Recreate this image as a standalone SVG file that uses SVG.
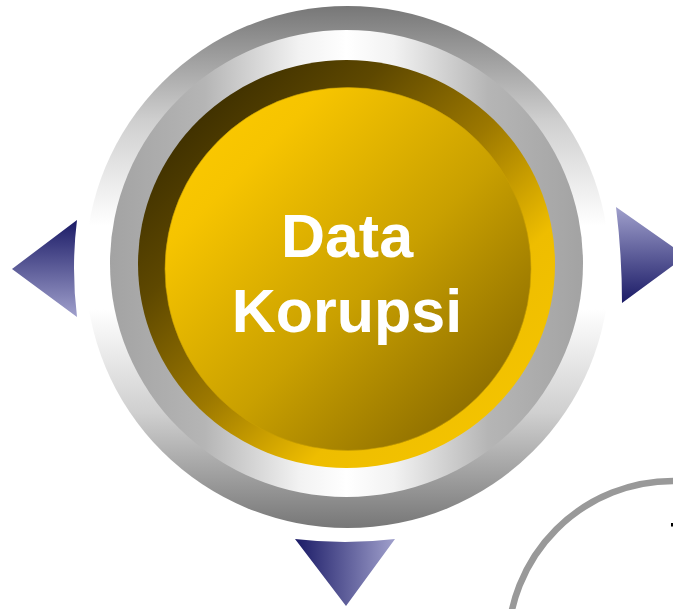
<svg xmlns="http://www.w3.org/2000/svg" width="673" height="609" viewBox="0 0 673 609">
  <defs>
    <linearGradient id="gOuter" x1="0" y1="0" x2="0" y2="1">
      <stop offset="0" stop-color="#777777"/>
      <stop offset="0.22" stop-color="#cfcfcf"/>
      <stop offset="0.42" stop-color="#ffffff"/>
      <stop offset="0.58" stop-color="#ffffff"/>
      <stop offset="0.78" stop-color="#cfcfcf"/>
      <stop offset="1" stop-color="#777777"/>
    </linearGradient>
    <linearGradient id="gInner" x1="0" y1="0" x2="1" y2="0">
      <stop offset="0" stop-color="#a3a3a3"/>
      <stop offset="0.2" stop-color="#b5b5b5"/>
      <stop offset="0.4" stop-color="#f2f2f2"/>
      <stop offset="0.5" stop-color="#ffffff"/>
      <stop offset="0.6" stop-color="#f2f2f2"/>
      <stop offset="0.8" stop-color="#b5b5b5"/>
      <stop offset="1" stop-color="#a3a3a3"/>
    </linearGradient>
    <linearGradient id="gRing" x1="0" y1="0" x2="1" y2="1">
      <stop offset="0" stop-color="#251c00"/>
      <stop offset="0.3" stop-color="#5e4800"/>
      <stop offset="0.5" stop-color="#9c7800"/>
      <stop offset="0.7" stop-color="#eebd00"/>
      <stop offset="1" stop-color="#f8c800"/>
    </linearGradient>
    <linearGradient id="gDisk" x1="0" y1="0" x2="1" y2="1">
      <stop offset="0" stop-color="#ffcc00"/>
      <stop offset="0.22" stop-color="#f6c400"/>
      <stop offset="0.55" stop-color="#c9a000"/>
      <stop offset="1" stop-color="#765a00"/>
    </linearGradient>
    <linearGradient id="gTriV" x1="0" y1="0" x2="0" y2="1">
      <stop offset="0" stop-color="#1a1a66"/>
      <stop offset="1" stop-color="#a0a0cc"/>
    </linearGradient>
    <linearGradient id="gTriVr" x1="0" y1="1" x2="0" y2="0">
      <stop offset="0" stop-color="#1a1a66"/>
      <stop offset="1" stop-color="#a0a0cc"/>
    </linearGradient>
    <linearGradient id="gTriH" x1="0" y1="0" x2="1" y2="0">
      <stop offset="0" stop-color="#1a1a66"/>
      <stop offset="1" stop-color="#a0a0cc"/>
    </linearGradient>
  </defs>
  <style>
    .label { font-family: "Liberation Sans", Arial, sans-serif; font-weight: bold; font-size: 61px; fill: #ffffff; text-anchor: middle; }
    .outline { fill: none; stroke: #999999; stroke-width: 6.5; }
  </style>
  <rect width="673" height="609" fill="#ffffff"/>

  <g id="connectors">
    <path id="arrow-left" d="M12 269 L77 220 Q71 268 77 317 Z" fill="url(#gTriV)"/>
    <path id="arrow-right" d="M616 207 L686 256 L622 303 Q622 255 616 207 Z" fill="url(#gTriVr)"/>
    <path id="arrow-down" d="M295 539 Q345 545 395 539 L346 606 Z" fill="url(#gTriH)"/>
  </g>

  <g id="node-data-korupsi">
    <ellipse cx="347.5" cy="267" rx="262" ry="261" fill="url(#gOuter)"/>
    <ellipse cx="346.5" cy="263.5" rx="236.5" ry="233.5" fill="url(#gInner)"/>
    <ellipse cx="346.5" cy="264" rx="208.5" ry="204" fill="url(#gRing)"/>
    <ellipse cx="348" cy="269" rx="183" ry="181.5" fill="url(#gDisk)" stroke="#c9a000" stroke-width="0.6"/>
    <text class="label" x="347" y="257">Data</text>
    <text class="label" x="347" y="332">Korupsi</text>
  </g>

  <g id="node-partial">
    <circle class="outline" cx="673" cy="646" r="165"/>
    <rect x="671" y="523" width="2" height="3.5" fill="#000000"/>
  </g>
</svg>
